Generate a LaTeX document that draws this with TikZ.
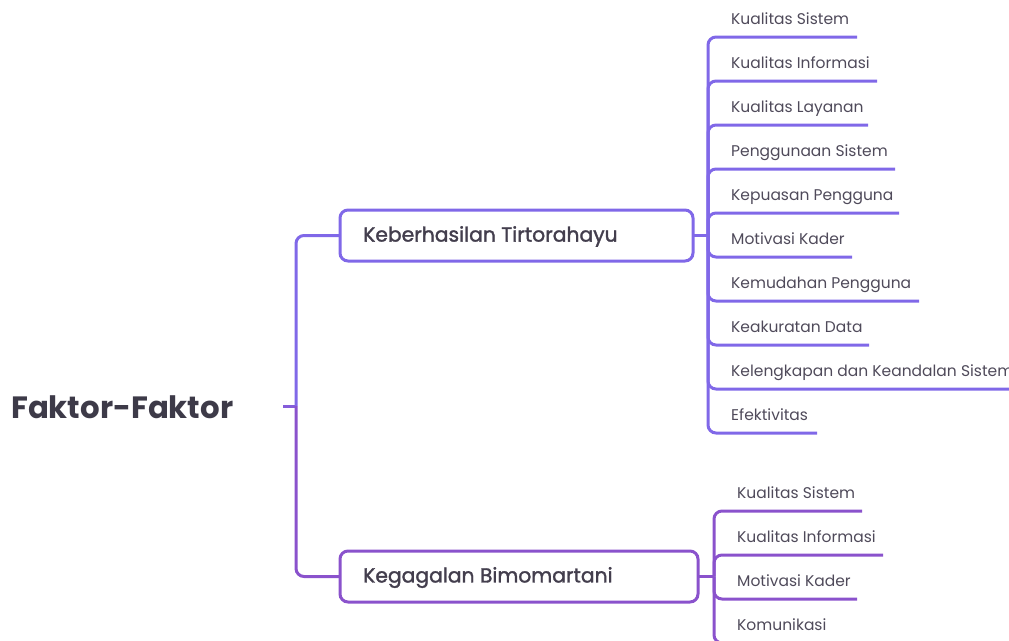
\documentclass[tikz,border=0pt]{standalone}
\usepackage{fontspec}
\setmainfont{Poppins}
\begin{document}
\begin{tikzpicture}[x=1pt,y=-1pt,
  upc/.style={draw=upcol},
  loc/.style={draw=locol},
  link/.style={line width=3pt,rounded corners=8pt},
  branchbox/.style={draw,line width=3pt,rounded corners=8pt,fill=white,inner sep=0pt},
  leaftext/.style={anchor=base west,inner sep=0pt,text=leafcol,font=\fontsize{15.5}{18}\selectfont},
  boxtext/.style={anchor=west,inner sep=0pt,text=boxcol,font=\fontsize{20.3}{24}\selectfont\addfontfeature{FakeBold=1.5}},
]
\definecolor{upcol}{HTML}{8068E8}
\definecolor{locol}{HTML}{8A52CC}
\definecolor{midcol}{HTML}{855DDA}
\definecolor{leafcol}{HTML}{4F4A5A}
\definecolor{boxcol}{HTML}{433E4D}
\definecolor{rootcol}{HTML}{3D3A48}
\useasboundingbox (0,0) rectangle (1009,640);
\clip (0,0) rectangle (1009,640);

% root
\node[anchor=west,inner sep=0pt,text=rootcol,font=\fontsize{30.8}{34}\selectfont\bfseries] (root) at (11,407) {Faktor-Faktor};
\coordinate (rootout) at (283,406);
\coordinate (trunk) at (296,406);
\draw[midcol,line width=3pt] (rootout) -- (trunk);

% branch boxes
\path[upc,branchbox] (340,210) rectangle (693,261);
\coordinate (boxA-w) at (340,235.5);
\coordinate (boxA-e) at (693,235.5);
\node[boxtext] (labA) at (363,236.5) {Keberhasilan Tirtorahayu};
\path[loc,branchbox] (340,551) rectangle (698,602);
\coordinate (boxB-w) at (340,576.5);
\coordinate (boxB-e) at (698,576.5);
\node[boxtext] (labB) at (363,577.5) {Kegagalan Bimomartani};

% trunk to the two boxes
\draw[upc,link] (trunk) |- (boxA-w);
\draw[loc,link] (trunk) |- (boxB-w);

% first group of leaves
\coordinate (jA) at (708,235.5);
\draw[upc,line width=3pt] (boxA-e) -- (jA);
\foreach \name/\txt/\ly/\ex in {
  a1/Kualitas Sistem/37/857,
  a2/Kualitas Informasi/81/877,
  a3/Kualitas Layanan/125/868,
  a4/Penggunaan Sistem/169/895,
  a5/Kepuasan Pengguna/213/899,
  a6/Motivasi Kader/257/852,
  a7/Kemudahan Pengguna/301/919,
  a8/Keakuratan Data/345/869,
  a9/Kelengkapan dan Keandalan Sistem/389/1015,
  a10/Efektivitas/433/817}{
  \node[leaftext] (\name) at (731,\ly-12.5) {\txt};
  \coordinate (\name-end) at (\ex,\ly);
  \draw[upc,link] (jA) |- (\name-end);
}

% second group of leaves
\coordinate (jB) at (714,576.5);
\draw[loc,line width=3pt] (boxB-e) -- (jB);
\foreach \name/\txt/\ly/\ex in {
  b1/Kualitas Sistem/511/862,
  b2/Kualitas Informasi/555/883,
  b3/Motivasi Kader/599/857,
  b4/Komunikasi/643/840}{
  \node[leaftext] (\name) at (737,\ly-12.5) {\txt};
  \coordinate (\name-end) at (\ex,\ly);
  \draw[loc,link] (jB) |- (\name-end);
}
\end{tikzpicture}
\end{document}
